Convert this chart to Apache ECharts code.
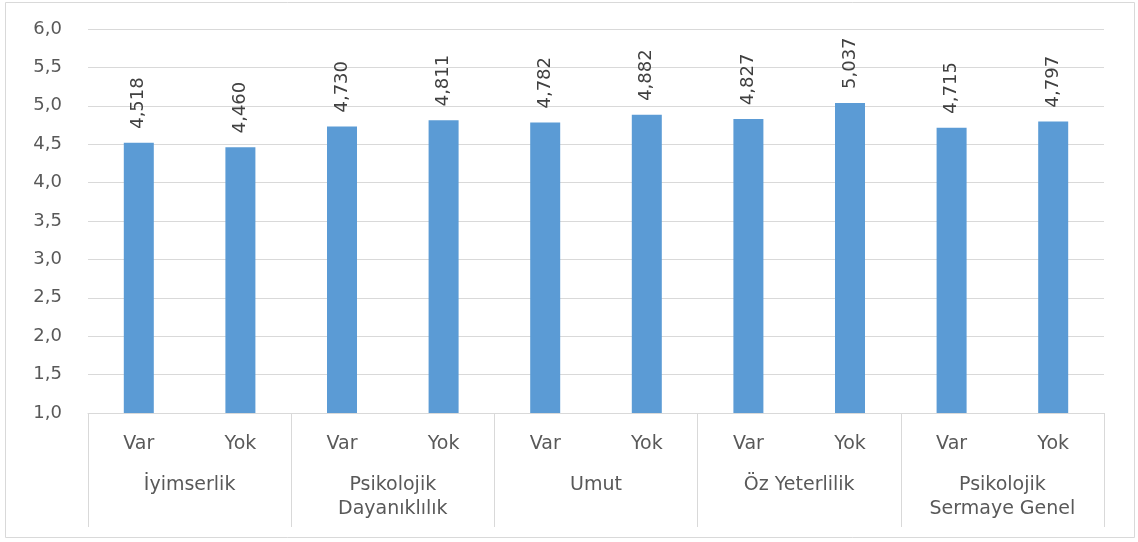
<!DOCTYPE html>
<html>
<head>
<meta charset="utf-8">
<script src="https://cdn.jsdelivr.net/npm/echarts@6/dist/echarts.min.js"></script>
<style>
  html, body { margin: 0; padding: 0; background: #fff; }
  #chart { width: 1138px; height: 542px; }
</style>
</head>
<body>
<div id="chart"></div>
<script>
// data
const answers = ['Var', 'Yok', 'Var', 'Yok', 'Var', 'Yok', 'Var', 'Yok', 'Var', 'Yok']
const groups = ['İyimserlik', 'Psikolojik\nDayanıklılık', 'Umut', 'Öz Yeterlilik', 'Psikolojik\nSermaye Genel']
const means = [4.518, 4.460, 4.730, 4.811, 4.782, 4.882, 4.827, 5.037, 4.715, 4.797]

const font = 'DejaVu Sans, sans-serif'

const chart = echarts.init(document.getElementById('chart'))

const option = {
    backgroundColor: '#fff',
    animation: false,
    graphic: [{
        type: 'rect',
        shape: { x: 5.5, y: 2.5, width: 1129, height: 535 },
        style: { fill: 'none', stroke: '#d9d9d9', lineWidth: 1 },
        silent: true
    }],
    grid: {
        left: 88,
        right: 34,
        top: 29,
        bottom: 129
    },
    xAxis: [
        {
            type: 'category',
            data: answers,
            axisLine: { lineStyle: { color: '#d9d9d9' } },
            axisTick: { show: false },
            axisLabel: {
                color: '#595959',
                fontFamily: font,
                fontSize: 19,
                margin: 22
            }
        },
        {
            type: 'category',
            data: groups,
            position: 'bottom',
            axisLine: { show: false },
            axisTick: {
                show: true,
                length: 114,
                lineStyle: { color: '#d9d9d9' }
            },
            axisLabel: {
                color: '#595959',
                fontFamily: font,
                fontSize: 19,
                lineHeight: 24,
                margin: 60
            }
        }
    ],
    yAxis: {
        type: 'value',
        min: 1,
        max: 6,
        interval: 0.5,
        axisLine: { show: false },
        axisTick: { show: false },
        splitLine: { lineStyle: { color: '#d9d9d9' } },
        axisLabel: {
            color: '#595959',
            fontFamily: font,
            fontSize: 18,
            margin: 26,
            formatter: function (v) {
                return v.toFixed(1).replace('.', ',')
            }
        }
    },
    series: [
        {
            type: 'bar',
            xAxisIndex: 0,
            data: means,
            barWidth: 30,
            itemStyle: { color: '#5b9bd5' },
            label: {
                show: true,
                position: 'top',
                rotate: 90,
                align: 'left',
                verticalAlign: 'middle',
                distance: 14,
                color: '#404040',
                fontFamily: font,
                fontSize: 18,
                formatter: function (p) {
                    return p.value.toFixed(3).replace('.', ',')
                }
            }
        }
    ]
}

chart.setOption(option)
</script>
</body>
</html>
